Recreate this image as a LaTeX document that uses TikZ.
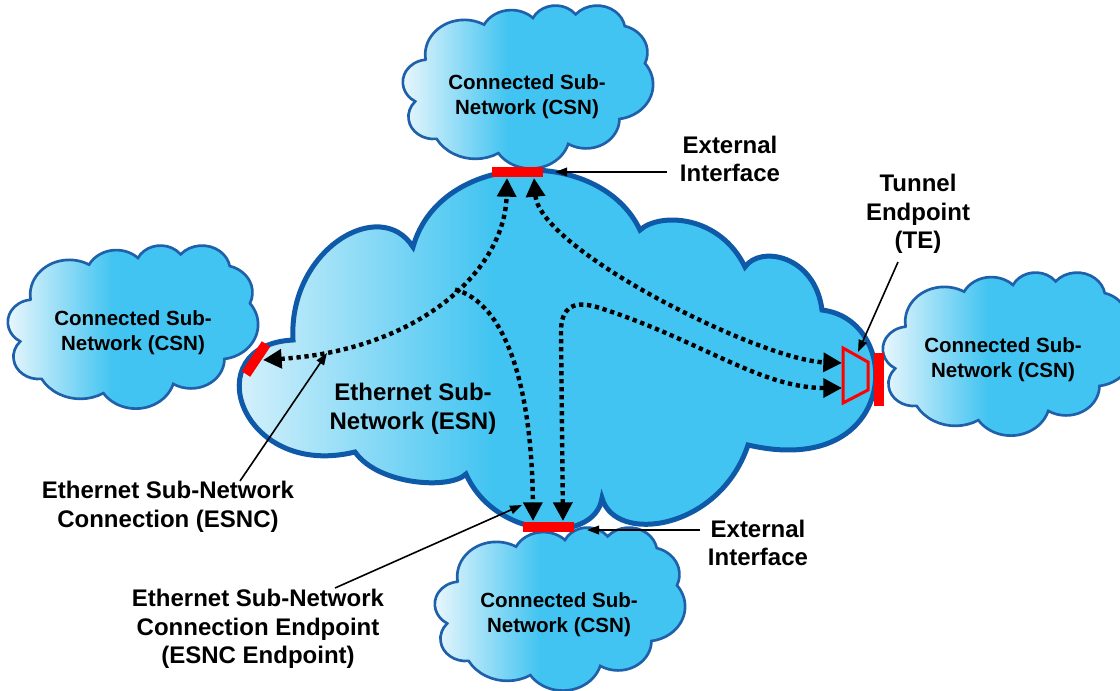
\documentclass[tikz,border=0pt]{standalone}
\usepackage{fontspec}
\setmainfont{Liberation Sans}
\usetikzlibrary{arrows.meta}
\definecolor{cloudC}{HTML}{41C4F1}
\definecolor{cloudL}{HTML}{EEF8FD}
\definecolor{esnblue}{HTML}{0F5AA8}
\definecolor{csnblue}{HTML}{1F60AA}
\definecolor{barred}{HTML}{FF0000}
\pgfdeclarehorizontalshading{cloudsh}{100bp}{color(0bp)=(cloudL); color(25bp)=(cloudL); color(46bp)=(cloudC); color(100bp)=(cloudC)}
\tikzset{
  pptcloud/.style={insert path={(3.9,14.37)
    arc[start angle=172.26,end angle=300.37,x radius=6.753,y radius=9.19]
    arc[start angle=-152.02,end angle=-45.45,x radius=5.333,y radius=7.267]
    arc[start angle=-153.48,end angle=-37.33,x radius=4.365,y radius=5.945]
    arc[start angle=-139.70,end angle=-10.21,x radius=4.857,y radius=6.595]
    arc[start angle=-74.77,end angle=23.21,x radius=5.333,y radius=7.273]
    arc[start angle=-37.53,end angle=81.86,x radius=6.775,y radius=9.22]
    arc[start angle=0.46,end angle=121.98,x radius=5.785,y radius=7.867]
    arc[start angle=16.85,end angle=146.23,x radius=6.752,y radius=9.215]
    arc[start angle=58.98,end angle=150.18,x radius=7.72,y radius=10.543]
    arc[start angle=83.31,end angle=223.09,x radius=4.36,y radius=5.918]
    arc[start angle=120.36,end angle=264.11,x radius=4.345,y radius=5.945]
    -- cycle}},
  csn/.style={shading=cloudsh, draw=csnblue, line width=2pt},
  esn/.style={shading=cloudsh, draw=esnblue, line width=3.75pt},
  bar/.style={draw=barred, line width=7.5pt},
  csnlabel/.style={font=\fontsize{15.4}{19}\selectfont\bfseries, align=center, inner sep=0pt},
  biglabel/.style={font=\fontsize{18}{21.5}\selectfont\bfseries, align=center, inner sep=0pt},
  dotline/.style={line width=3.3pt, dash pattern=on 3.2pt off 2.8pt},
  bothtips/.style={arrows={Triangle[length=14pt,width=14pt]-Triangle[length=14pt,width=14pt]}},
  endtip/.style={arrows={-Triangle[length=14pt,width=14pt]}},
  pointer/.style={line width=1.2pt, arrows={-Triangle[length=9pt,width=6.5pt]}}
}
\begin{document}
\begin{tikzpicture}[x=0.75pt,y=-0.75pt]
\useasboundingbox (0,0) rectangle (1120,690);

% connected sub-network clouds
\begin{scope}[shift={(8,245)}, xscale=250/43.2, yscale=163/43.2]
  \shadedraw[csn, pptcloud];
\end{scope}
\begin{scope}[shift={(403,5)}, xscale=250/43.2, yscale=163/43.2]
  \shadedraw[csn, pptcloud];
\end{scope}
\begin{scope}[shift={(883,272)}, xscale=250/43.2, yscale=163/43.2]
  \shadedraw[csn, pptcloud];
\end{scope}
\begin{scope}[shift={(435,527)}, xscale=250/43.2, yscale=163/43.2]
  \shadedraw[csn, pptcloud];
\end{scope}

% Ethernet sub-network cloud
\shadedraw[esn] (293,340) .. controls (288,250) and (380,195) .. (413,247)
  .. controls (440,150) and (600,145) .. (640,230)
  .. controls (660,212) and (720,215) .. (745,267)
  .. controls (760,245) and (815,255) .. (822,310)
  .. controls (905,320) and (900,480) .. (748,445)
  .. controls (720,530) and (615,545) .. (602,498)
  .. controls (595,545) and (495,540) .. (466,474)
  .. controls (450,490) and (378,485) .. (355,452)
  .. controls (240,480) and (195,345) .. (293,340) -- cycle;

% external interfaces
\draw[bar] (492,172) -- (543,172);
\draw[bar] (523,526.5) -- (574,526.5);
\draw[bar] (879,353) -- (879,406);
\draw[bar] (246,374) -- (266,344);

% tunnel endpoint
\draw[draw=barred, line width=2.25pt, line join=miter] (843,348) -- (868,362) -- (868,390) -- (843,403) -- cycle;

% connection end coordinates
\coordinate (lTip) at (263,360);
\coordinate (tL) at (507,178);
\coordinate (tR) at (534,178);
\coordinate (bL) at (533,521);
\coordinate (bR) at (563,521);
\coordinate (teU) at (842,363);
\coordinate (teD) at (842,388);
\coordinate (merge) at (455,289.5);

% ESN connections
\draw[dotline, bothtips] (lTip) .. controls (420,350) and (505,270) .. (tL);
\draw[dotline, endtip] (merge) .. controls (505,303) and (532,385) .. (bL);
\draw[dotline, bothtips] (tR) .. controls (540,250) and (760,360) .. (teU);
\draw[dotline, bothtips] (bR) -- (561,335) .. controls (560,305) and (575,300) .. (600,308)
  .. controls (700,340) and (760,388) .. (teD);

% labels
\node[csnlabel] (csnT) at (527,97) {Connected Sub-\\Network (CSN)};
\node[csnlabel] (csnL) at (133,333) {Connected Sub-\\Network (CSN)};
\node[csnlabel] (csnR) at (1003,360) {Connected Sub-\\Network (CSN)};
\node[csnlabel] (csnB) at (559,615) {Connected Sub-\\Network (CSN)};
\node[biglabel] (esnlab) at (413,409) {Ethernet Sub-\\Network (ESN)};
\node[biglabel] (extT) at (730,159) {External\\Interface};
\node[biglabel] (extB) at (758,543) {External\\Interface};
\node[biglabel] (telab) at (918,214) {Tunnel\\Endpoint\\(TE)};
\node[biglabel] (esnc) at (168,507) {Ethernet Sub-Network\\Connection (ESNC)};
\node[biglabel] (esnce) at (258,629) {Ethernet Sub-Network\\Connection Endpoint\\(ESNC Endpoint)};

% pointers
\coordinate (pExtT) at (667,172);
\coordinate (pExtTtip) at (555,172);
\coordinate (pExtB) at (700,530);
\coordinate (pExtBtip) at (587,530);
\coordinate (pTE) at (898,262);
\coordinate (pTEtip) at (858,352);
\coordinate (pESNC) at (240,481);
\coordinate (pESNCtip) at (327,353);
\coordinate (pESNCE) at (335,588);
\coordinate (pESNCEtip) at (522,505);
\draw[pointer] (pExtT) -- (pExtTtip);
\draw[pointer] (pExtB) -- (pExtBtip);
\draw[pointer] (pTE) -- (pTEtip);
\draw[pointer] (pESNC) -- (pESNCtip);
\draw[pointer] (pESNCE) -- (pESNCEtip);
\end{tikzpicture}
\end{document}
